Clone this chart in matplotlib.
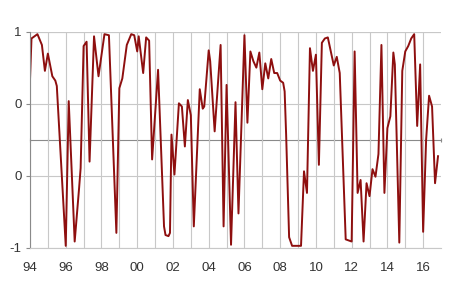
"""
Figure: turning point indicator, 1994-2016
"""
# --------------------------------------------------------------------------------
# 1.Import modular
# --------------------------------------------------------------------------------
import matplotlib
matplotlib.use("Agg")
import matplotlib.pyplot as plt


# --------------------------------------------------------------------------------
# 2.Define variable
# --------------------------------------------------------------------------------
# data (month, indicator value)
MONTHS = ["1994-01", "1994-02", "1994-06", "1994-09", "1994-11", "1995-01", "1995-04", "1995-06",
          "1995-07", "1996-01", "1996-03", "1996-07", "1996-10", "1996-11", "1997-01", "1997-03",
          "1997-05", "1997-08", "1997-11", "1998-03", "1998-06", "1998-11", "1999-01", "1999-03",
          "1999-06", "1999-09", "1999-11", "2000-01", "2000-02", "2000-05", "2000-07", "2000-09",
          "2000-11", "2001-03", "2001-07", "2001-08", "2001-10", "2001-11", "2001-12", "2002-02",
          "2002-05", "2002-07", "2002-09", "2002-11", "2003-01", "2003-03", "2003-07", "2003-09",
          "2003-10", "2004-01", "2004-02", "2004-05", "2004-09", "2004-11", "2005-01", "2005-04",
          "2005-07", "2005-09", "2006-01", "2006-03", "2006-05", "2006-07", "2006-09", "2006-11",
          "2007-01", "2007-03", "2007-05", "2007-07", "2007-09", "2007-11", "2008-01", "2008-03",
          "2008-04", "2008-05", "2008-07", "2008-09", "2009-03", "2009-05", "2009-07", "2009-09",
          "2009-11", "2010-01", "2010-03", "2010-05", "2010-07", "2010-09", "2010-11", "2011-01",
          "2011-03", "2011-05", "2011-09", "2012-01", "2012-03", "2012-05", "2012-07", "2012-09",
          "2012-11", "2013-01", "2013-03", "2013-05", "2013-07", "2013-09", "2013-11", "2014-01",
          "2014-03", "2014-05", "2014-06", "2014-09", "2014-11", "2015-01", "2015-03", "2015-05",
          "2015-07", "2015-09", "2015-11", "2016-01", "2016-03", "2016-05", "2016-07", "2016-09",
          "2016-11"]

VALUES = [0.56, 0.94, 0.98, 0.88, 0.64, 0.80, 0.59, 0.55,
          0.50, -0.98, 0.36, -0.94, -0.44, -0.26, 0.87, 0.91,
          -0.20, 0.96, 0.59, 0.98, 0.97, -0.86, 0.48, 0.57,
          0.88, 0.98, 0.97, 0.82, 0.96, 0.62, 0.95, 0.92,
          -0.18, 0.65, -0.80, -0.88, -0.89, -0.86, 0.05, -0.32,
          0.34, 0.31, -0.06, 0.37, 0.23, -0.80, 0.47, 0.29,
          0.31, 0.83, 0.73, 0.08, 0.88, -0.80, 0.51, -0.97,
          0.35, -0.68, 0.97, 0.16, 0.82, 0.73, 0.67, 0.81,
          0.47, 0.71, 0.57, 0.75, 0.62, 0.62, 0.55, 0.53,
          0.45, 0.05, -0.90, -0.98, -0.98, -0.29, -0.49, 0.85,
          0.64, 0.79, -0.23, 0.90, 0.94, 0.95, 0.82, 0.69,
          0.77, 0.62, -0.92, -0.94, 0.82, -0.49, -0.37, -0.94,
          -0.40, -0.52, -0.27, -0.34, -0.13, 0.88, -0.49, 0.11,
          0.22, 0.81, 0.70, -0.95, 0.64, 0.82, 0.87, 0.94,
          0.98, 0.13, 0.70, -0.85, 0.00, 0.41, 0.31, -0.40,
          -0.15]

X_LABEL_YEARS = list(range(1994, 2017, 2))
X_LABELS = ["94", "96", "98", "00", "02", "04", "06", "08", "10", "12", "14", "16"]
Y_TICKS = [-1, -1 / 3, 1 / 3, 1]
Y_LABELS = ["-1", "0", "0", "1"]

# plot
LINE_COLOR = "#8e0f0f"
GRID_COLOR = "#c8c8c8"
AXIS_COLOR = "#8a8a8a"
TEXT_COLOR = "#333333"
PLOT_DPI = 100
PLOT_X_SIZE = 4.5
PLOT_Y_SIZE = 2.91


# --------------------------------------------------------------------------------
# 3.Define function
# --------------------------------------------------------------------------------
def to_year(month_str):
    y, m = month_str.split("-")
    return int(y) + (int(m) - 1) / 12.0


def draw_indicator():
    x = [to_year(s) for s in MONTHS]

    plt.rcParams["font.family"] = ["Liberation Sans", "DejaVu Sans"]
    fig = plt.figure(figsize=(PLOT_X_SIZE, PLOT_Y_SIZE), dpi=PLOT_DPI, facecolor="w")
    ax = fig.add_axes([30 / 450, 1 - 248 / 291, 411 / 450, 216 / 291])

    ax.set_xlim(1994, 2017)
    ax.set_ylim(-1, 1)

    # grid
    ax.set_xticks(range(1995, 2017), minor=True)
    ax.set_xticks(X_LABEL_YEARS)
    ax.set_xticklabels(X_LABELS)
    ax.set_yticks(Y_TICKS)
    ax.set_yticklabels(Y_LABELS)
    ax.grid(which="both", axis="x", color=GRID_COLOR, linewidth=0.8)
    ax.grid(which="major", axis="y", color=GRID_COLOR, linewidth=0.8)
    ax.axhline(1, color=GRID_COLOR, linewidth=0.8)
    ax.set_axisbelow(True)

    ax.tick_params(axis="x", which="both", length=0, pad=10, labelsize=9.5, labelcolor=TEXT_COLOR)
    ax.tick_params(axis="y", length=3, width=0.8, color=AXIS_COLOR, pad=3, labelsize=9.5,
                   labelcolor=TEXT_COLOR)

    for side in ["top", "right"]:
        ax.spines[side].set_visible(False)
    ax.spines["bottom"].set_color(GRID_COLOR)
    ax.spines["bottom"].set_linewidth(0.8)
    ax.spines["left"].set_color(AXIS_COLOR)
    ax.spines["left"].set_linewidth(0.8)

    # zero axis with year ticks
    zero_ax = ax.secondary_xaxis(0.5)
    zero_ax.set_xticks(range(1994, 2018))
    zero_ax.set_xticklabels([])
    zero_ax.tick_params(length=3, width=0.8, color=AXIS_COLOR, direction="inout")
    for spine in zero_ax.spines.values():
        spine.set_color(AXIS_COLOR)
        spine.set_linewidth(0.8)

    # draw line
    ax.plot(x, VALUES, color=LINE_COLOR, linewidth=1.4, solid_joinstyle="round")

    plt.savefig("out.png", dpi=PLOT_DPI)
    plt.close()


# --------------------------------------------------------------------------------
# 4.Main function
# --------------------------------------------------------------------------------
def main_function():
    draw_indicator()


if __name__ == '__main__':
    main_function()
